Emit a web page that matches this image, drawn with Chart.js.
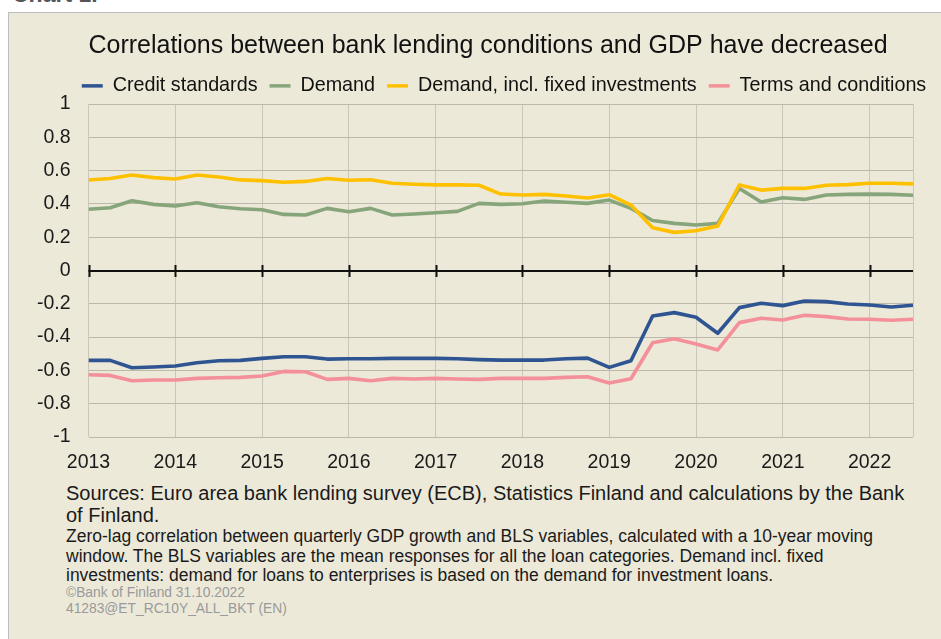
<!DOCTYPE html>
<html>
<head>
<meta charset="utf-8">
<script src="https://cdn.jsdelivr.net/npm/chart.js@4.4.0/dist/chart.umd.min.js"></script>
<style>
  html, body { margin: 0; padding: 0; background: #ffffff; overflow: hidden; width: 941px; height: 639px; }
  body { position: relative; font-family: "Liberation Sans", Arial, sans-serif; }
  #chartNo { position: absolute; left: 12px; top: -17px; font-size: 23px; font-weight: bold; color: #555; line-height: 23px; white-space: nowrap; }
  #panel { position: absolute; left: 8px; top: 12px; width: 980px; height: 700px; background: #ECE9D9; border: 1px solid #bdbdbd; }
  #wrap { position: absolute; left: 0; top: 0; width: 1008px; height: 475px; }
  #c { display: block; }
  .notes { position: absolute; left: 66px; white-space: nowrap; color: #1a1a1a; }
  #src { top: 482px; font-size: 20px; line-height: 22px; }
  #expl { top: 527px; font-size: 17.5px; line-height: 19.5px; }
  #copy { top: 585px; font-size: 13.8px; line-height: 16px; color: #9a9a9a; }
</style>
</head>
<body>
<div id="chartNo">Chart 1.</div>
<div id="panel"></div>
<div id="wrap"><canvas id="c" width="1008" height="475" style="width:1008px;height:475px"></canvas></div>
<div class="notes" id="src">Sources: Euro area bank lending survey (ECB), Statistics Finland and calculations by the Bank<br>of Finland.</div>
<div class="notes" id="expl">Zero-lag correlation between quarterly GDP growth and BLS variables, calculated with a 10-year moving<br>window. The BLS variables are the mean responses for all the loan categories. Demand incl. fixed<br>investments: demand for loans to enterprises is based on the demand for investment loans.</div>
<div class="notes" id="copy">©Bank of Finland 31.10.2022<br>41283@ET_RC10Y_ALL_BKT (EN)</div>
<script>
const periods = [
  '2013Q1','2013Q2','2013Q3','2013Q4','2014Q1','2014Q2','2014Q3','2014Q4',
  '2015Q1','2015Q2','2015Q3','2015Q4','2016Q1','2016Q2','2016Q3','2016Q4',
  '2017Q1','2017Q2','2017Q3','2017Q4','2018Q1','2018Q2','2018Q3','2018Q4',
  '2019Q1','2019Q2','2019Q3','2019Q4','2020Q1','2020Q2','2020Q3','2020Q4',
  '2021Q1','2021Q2','2021Q3','2021Q4','2022Q1','2022Q2','2022Q3'
];
const yearTicks = [2013, 2014, 2015, 2016, 2017, 2018, 2019, 2020, 2021, 2022];
const yTicks = [1, 0.8, 0.6, 0.4, 0.2, 0, -0.2, -0.4, -0.6, -0.8, -1];

const creditStandards = [
  -0.540, -0.540, -0.584, -0.580, -0.574, -0.554, -0.542, -0.540,
  -0.528, -0.518, -0.518, -0.532, -0.530, -0.530, -0.528, -0.528,
  -0.528, -0.530, -0.535, -0.538, -0.538, -0.538, -0.530, -0.526,
  -0.582, -0.542, -0.273, -0.253, -0.281, -0.377, -0.223, -0.197,
  -0.211, -0.183, -0.187, -0.201, -0.207, -0.219, -0.209
];
const demand = [
  0.368, 0.377, 0.419, 0.397, 0.387, 0.407, 0.383, 0.371,
  0.365, 0.337, 0.333, 0.373, 0.353, 0.373, 0.333, 0.339,
  0.347, 0.355, 0.403, 0.397, 0.401, 0.417, 0.410, 0.403,
  0.423, 0.373, 0.300, 0.283, 0.273, 0.283, 0.493, 0.411,
  0.437, 0.427, 0.453, 0.457, 0.459, 0.457, 0.452
];
const demandFixedInv = [
  0.544, 0.553, 0.574, 0.558, 0.550, 0.574, 0.562, 0.544,
  0.540, 0.530, 0.535, 0.553, 0.542, 0.545, 0.524, 0.518,
  0.514, 0.514, 0.512, 0.459, 0.453, 0.457, 0.447, 0.435,
  0.455, 0.393, 0.257, 0.229, 0.239, 0.267, 0.514, 0.483,
  0.493, 0.493, 0.512, 0.516, 0.524, 0.524, 0.520
];
const termsConditions = [
  -0.626, -0.630, -0.662, -0.658, -0.658, -0.648, -0.644, -0.642,
  -0.634, -0.606, -0.608, -0.654, -0.648, -0.662, -0.648, -0.652,
  -0.648, -0.652, -0.654, -0.648, -0.648, -0.648, -0.642, -0.638,
  -0.676, -0.650, -0.434, -0.410, -0.441, -0.477, -0.313, -0.287,
  -0.297, -0.269, -0.277, -0.291, -0.293, -0.299, -0.293
];

const seriesNames = ['Credit standards', 'Demand', 'Demand, incl. fixed investments', 'Terms and conditions'];
const seriesColors = ['#2F5492', '#87A57B', '#FFC000', '#F4909A'];
const seriesValues = [creditStandards, demand, demandFixedInv, termsConditions];
const drawOrder = [1, 2, 0, 3];

function periodToX(p) {
  return parseInt(p.slice(0, 4), 10) + (parseInt(p.slice(5), 10) - 1) / 4;
}
const xMin = periodToX(periods[0]);
const xMax = periodToX(periods[periods.length - 1]);

const FONT = '"Liberation Sans", Arial, sans-serif';
const TITLE_CENTER = 488;

const zeroAxis = {
  id: 'zeroAxis',
  beforeDatasetsDraw(chart) {
    const { ctx, chartArea, scales: { x, y } } = chart;
    const y0 = Math.round(y.getPixelForValue(0));
    ctx.save();
    ctx.strokeStyle = '#111111';
    ctx.lineWidth = 2;
    ctx.beginPath();
    ctx.moveTo(chartArea.left, y0);
    ctx.lineTo(chartArea.right, y0);
    ctx.stroke();
    yearTicks.forEach(v => {
      const px = Math.round(x.getPixelForValue(v)) + 0.5;
      ctx.beginPath();
      ctx.moveTo(px, y0 - 6);
      ctx.lineTo(px, y0 + 6);
      ctx.stroke();
    });
    ctx.restore();
  }
};

const titleShift = {
  id: 'titleShift',
  afterLayout(chart) {
    const t = chart.titleBlock;
    if (!t) return;
    const dx = TITLE_CENTER - (t.left + t.right) / 2;
    t.left += dx;
    t.right += dx;
  }
};

new Chart(document.getElementById('c'), {
  type: 'line',
  data: {
    datasets: seriesNames.map((name, k) => ({
      label: name,
      data: periods.map((p, i) => ({ x: periodToX(p), y: seriesValues[k][i] })),
      borderColor: seriesColors[k],
      backgroundColor: seriesColors[k],
      borderWidth: 3.6,
      pointRadius: 0,
      tension: 0,
      borderJoinStyle: 'round',
      order: drawOrder[k],
      yAxisID: 'y'
    }))
  },
  options: {
    responsive: false,
    animation: false,
    devicePixelRatio: 1,
    layout: { padding: 0 },
    plugins: {
      tooltip: { enabled: false },
      title: {
        display: true,
        text: 'Correlations between bank lending conditions and GDP have decreased',
        color: '#111111',
        font: { family: FONT, size: 25, weight: 'normal', lineHeight: 1.2 },
        padding: { top: 31, bottom: 3 }
      },
      legend: {
        display: true,
        position: 'top',
        maxHeight: 40,
        labels: {
          color: '#111111',
          font: { family: FONT, size: 19.75 },
          boxWidth: 21,
          boxHeight: 3.5,
          padding: 12,
          generateLabels: (chart) => chart.data.datasets.map((ds, i) => ({
            text: ds.label,
            fillStyle: ds.borderColor,
            strokeStyle: ds.borderColor,
            lineWidth: 0,
            hidden: false,
            datasetIndex: i,
            fontColor: '#111111'
          }))
        }
      }
    },
    scales: {
      x: {
        type: 'linear',
        min: xMin,
        max: xMax,
        afterBuildTicks: (s) => { s.ticks = yearTicks.concat([xMax]).map(v => ({ value: v })); },
        afterFit: (s) => { s.height = 38; },
        ticks: {
          autoSkip: false,
          maxRotation: 0,
          padding: 14,
          color: '#1a1a1a',
          font: { family: FONT, size: 19.5 },
          callback: (v) => (yearTicks.includes(v) ? String(v) : '')
        },
        grid: { color: '#cac7ba', lineWidth: 1, drawTicks: false },
        border: { display: false }
      },
      y: {
        type: 'linear',
        position: 'left',
        min: -1,
        max: 1,
        afterBuildTicks: (s) => { s.ticks = yTicks.map(v => ({ value: v })); },
        afterFit: (s) => { s.width = 88.5; },
        ticks: {
          padding: 18,
          color: '#1a1a1a',
          font: { family: FONT, size: 19.5 },
          callback: (v) => String(Math.round(v * 10) / 10)
        },
        grid: {
          color: (ctx) => (ctx.tick && ctx.tick.value === 0 ? 'rgba(0,0,0,0)' : '#bcb9ac'),
          lineWidth: 1,
          drawTicks: false
        },
        border: { display: false }
      },
      yPad: {
        type: 'linear',
        position: 'right',
        display: true,
        afterFit: (s) => { s.width = 95; },
        ticks: { display: false },
        grid: { display: false },
        border: { display: false }
      }
    }
  },
  plugins: [zeroAxis, titleShift]
});
</script>
</body>
</html>
